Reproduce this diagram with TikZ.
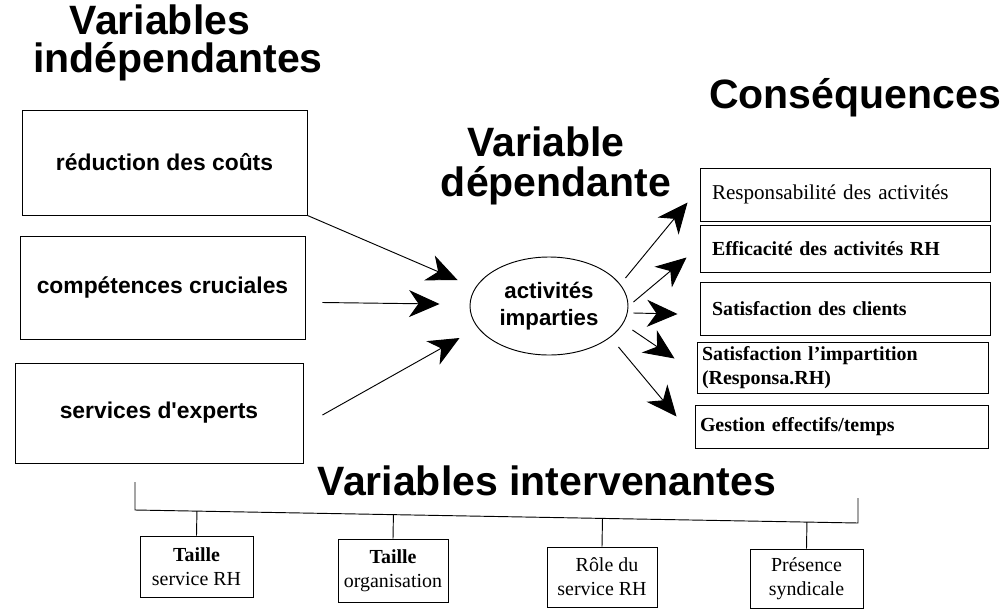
\documentclass[tikz,border=0pt]{standalone}
\usepackage{fontspec}
\setmainfont{Liberation Serif}
\newfontfamily\arialf{Liberation Sans}
\usetikzlibrary{shapes.geometric,arrows.meta,calc}
\begin{document}
\begin{tikzpicture}[x=0.03cm,y=-0.03cm,
  title/.style={anchor=base,inner sep=0pt,font=\arialf\bfseries\fontsize{35}{40}\selectfont},
  lbox/.style={draw,line width=0.8pt,inner sep=0pt,font=\arialf\bfseries\fontsize{19.5}{24}\selectfont},
  rbox/.style={draw,line width=0.8pt,inner ysep=0pt,align=left,font=\fontsize{17}{20}\selectfont},
  bbox/.style={draw,line width=0.8pt,inner sep=0pt,align=center,font=\fontsize{17}{20.5}\selectfont},
  ell/.style={draw,ellipse,line width=0.8pt,inner sep=0pt,minimum width=4.74cm,minimum height=2.94cm,align=center,font=\arialf\bfseries\fontsize{19}{23}\selectfont},
  arr/.style={-{Stealth[length=26pt,width=23pt,inset=8pt]},line width=0.8pt},
  ln/.style={line width=0.8pt}]
\useasboundingbox (0,0) rectangle (1005,610);

% titles
\node[title,text depth=0pt] (t1) at (160,34) {Variables};
\node[title,text height=24pt] (t2) at (178,72) {indépendantes};
\node[title,text depth=0pt] (t3) at (546,156) {Variable};
\node[title,text height=26pt] (t4) at (556,196) {dépendante};
\node[title] (t5) at (855,108) {Conséquences};
\node[title] (t6) at (547,495) {Variables intervenantes};

% left boxes
\node[lbox,minimum width=8.55cm,minimum height=3.15cm] (l1) at (164.5,162.5) {réduction des coûts};
\node[lbox,minimum width=8.55cm,minimum height=3.09cm] (l2) at (162.5,287.5) {compétences cruciales};
\node[lbox,minimum width=8.64cm,minimum height=3.0cm] (l3) at (159,413) {services d'experts};

% ellipse
\node[ell] (e) at (549,306) {activités\\imparties};

% right boxes
\node[rbox,inner xsep=0.36cm,text width=7.98cm,minimum height=1.59cm,font=\fontsize{18}{20}\selectfont] (r1) at (845,194.5) {Responsabilité des activités};
\node[rbox,inner xsep=0.36cm,text width=7.98cm,minimum height=1.41cm,font=\bfseries\fontsize{17}{20}\selectfont] (r2) at (845,248.5) {Efficacité des activités RH};
\node[rbox,inner xsep=0.36cm,text width=7.98cm,minimum height=1.59cm,font=\bfseries\fontsize{17}{20}\selectfont] (r3) at (845,308.5) {Satisfaction des clients};
\node[rbox,inner xsep=0.15cm,text width=8.43cm,minimum height=1.53cm,font=\bfseries\fontsize{17}{20}\selectfont] (r4) at (842.5,367.5) {Satisfaction l'impartition\\(Responsa.RH)};
\node[rbox,inner xsep=0.15cm,text width=8.49cm,minimum height=1.29cm,font=\bfseries\fontsize{17}{20}\selectfont] (r5) at (841.5,426.5) {Gestion effectifs/temps};

% bottom boxes
\node[bbox,minimum width=3.39cm,minimum height=1.83cm] (b1) at (196.5,566.5) {\textbf{Taille}\\service RH};
\node[bbox,minimum width=3.3cm,minimum height=1.89cm] (b2) at (393,570.5) {\textbf{Taille}\\organisation};
\node[bbox,minimum width=3.3cm,minimum height=1.8cm] (b3) at (602,577) {\hspace*{0.5em}Rôle du\\service RH};
\node[bbox,minimum width=3.39cm,minimum height=1.77cm] (b4) at (806.5,578.5) {Présence\\syndicale};

% bracket
\coordinate (brLt) at (135,482);
\coordinate (brL) at (135,510);
\coordinate (brR) at (858,523);
\coordinate (brRt) at (858,498);
\draw[ln] (brLt) -- (brL) -- (brR) -- (brRt);
\foreach \b in {b1,b2,b3,b4}
  \draw[ln] (\b.north) -- ($(brL)!(\b.north)!(brR)$);

% arrows into ellipse
\draw[arr] (l1.south east) -- ($(e.west)+(-12,-26)$);
\draw[arr] ($(l2.east)+(17,15)$) -- ($(e.west)+(-30,-2)$);
\draw[arr] ($(l3.east)+(19,2)$) -- ($(e.west)+(-10,32)$);

% arrows out of ellipse
\draw[arr] ($(e.east)+(-3,-28)$) -- ($(r1.west)+(-12,8)$);
\draw[arr] ($(e.east)+(5,-4)$) -- ($(r2.west)+(-13,9)$);
\draw[arr] ($(e.east)+(5,7)$) -- ($(r3.west)+(-22,5.5)$);
\draw[arr] ($(e.east)+(4,24)$) -- ($(r4.west)+(-22,-9)$);
\draw[arr] ($(e.east)+(-10,41)$) -- ($(r5.west)+(-18,-10)$);
\end{tikzpicture}
\end{document}
